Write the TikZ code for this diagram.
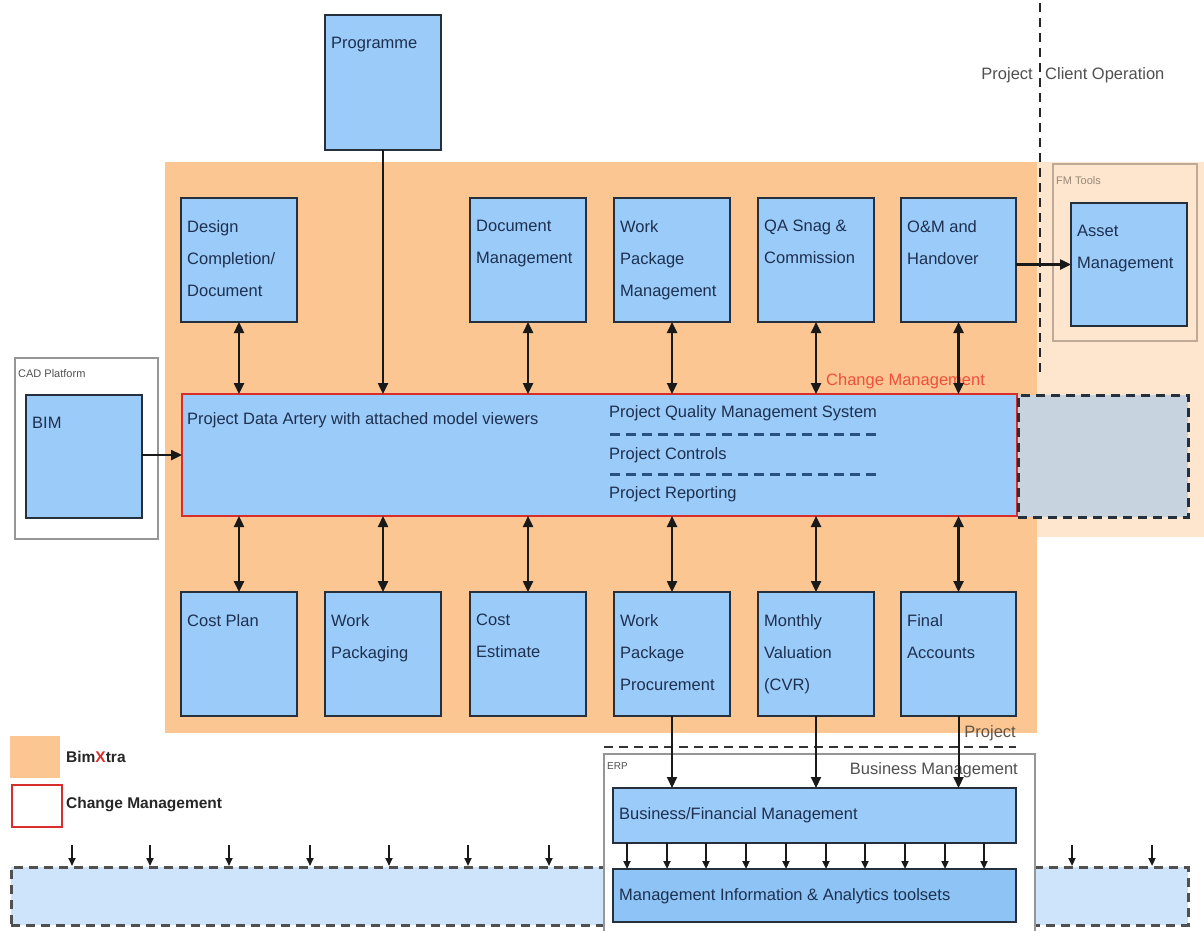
\documentclass[tikz,border=0pt]{standalone}
\usepackage{fontspec}
\setmainfont{Liberation Sans}
\usetikzlibrary{arrows.meta}
\definecolor{bxorange}{RGB}{251,198,146}
\definecolor{bxpeach}{RGB}{253,229,206}
\definecolor{bxblue}{RGB}{155,204,249}
\definecolor{bxblue2}{RGB}{142,196,245}
\definecolor{bxborder}{RGB}{38,48,60}
\definecolor{bxtext}{RGB}{30,48,80}
\definecolor{bxred}{RGB}{215,45,45}
\definecolor{bxredtxt}{RGB}{238,80,60}
\definecolor{bxband}{RGB}{206,228,250}
\definecolor{bxgraybox}{RGB}{200,211,224}
\definecolor{bxgray}{RGB}{80,80,80}
\definecolor{bxlgray}{RGB}{150,150,150}
\definecolor{bxdash}{RGB}{40,80,130}
\definecolor{bxfm}{RGB}{190,170,150}
\newcommand\mkblk[6]{%
  \node[box, minimum width=#4pt, minimum height=#5pt] (#1) at (#2,#3) {};
  \node[txt] (#1t) at ([xshift=6pt,yshift=-22pt]#1.north west) {#6};}
\begin{document}
\begin{tikzpicture}[x=1pt,y=-1pt,
 box/.style={draw=bxborder, line width=2.4pt, fill=bxblue, anchor=north west, inner sep=0pt, outer sep=0pt},
 txt/.style={anchor=north west, inner sep=0pt, text=bxtext, font=\fontsize{16.5}{32}\selectfont, align=left},
 lbl/.style={inner sep=0pt, font=\fontsize{16.5}{20}\selectfont},
 small/.style={inner sep=0pt, font=\fontsize{11}{13}\selectfont},
 dbl/.style={{Triangle[length=11pt,width=10pt]}-{Triangle[length=11pt,width=10pt]}, line width=2.4pt, black!90},
 sgl/.style={-{Triangle[length=11pt,width=10pt]}, line width=2.4pt, black!90},
 sml/.style={-{Triangle[length=8pt,width=7pt]}, line width=2pt, black!90},
 sep/.style={line width=2.5pt, draw=bxgray, dash pattern=on 9pt off 6pt},
]
\useasboundingbox (0,0) rectangle (1204,930);
\fill[white] (0,0) rectangle (1204,930);
% regions
\fill[bxorange] (165,162) rectangle (1037,733);
\fill[bxpeach] (1037,162) rectangle (1204,537);
\node[anchor=north west, draw=bxfm, line width=1.5pt, fill=bxpeach, minimum width=144pt, minimum height=177pt] (fm) at (1052,163) {};
\node[small, anchor=west, text=bxfm!80!black] at (1056,181) {FM Tools};
\node[anchor=north west, draw=bxlgray, line width=2pt, fill=white, minimum width=143pt, minimum height=181pt] (cad) at (14,357) {};
\node[small, anchor=west, text=bxgray] at (18,374) {CAD Platform};
% project / client split
\coordinate (pc1) at (1040,3);
\coordinate (pc2) at (1040,372);
\draw[sep, draw=black!85] (pc1) -- (pc2);
\node[lbl, anchor=east, text=bxgray] at (1033,75) {Project};
\node[lbl, anchor=west, text=bxgray] at (1045,75) {Client Operation};
% bottom band
\node[anchor=north west, sep, fill=bxband, minimum width=1177pt, minimum height=58pt, inner sep=0pt] (band) at (10,866) {};
% ERP
\coordinate (pb1) at (604,747);
\coordinate (pb2) at (1016,747);
\draw[sep, draw=black!80] (pb1) -- (pb2);
\node[lbl, anchor=east, text=bxgray!90!orange] at (1016,733) {Project};
\node[anchor=north west, draw=bxlgray, line width=1.5pt, fill=white, minimum width=431pt, minimum height=182pt, inner sep=0pt] (erp) at (603,753) {};
\node[small, anchor=west, text=bxgray, font=\fontsize{10}{12}\selectfont] at (607,766) {ERP};
\node[lbl, anchor=east, text=bxgray] at (1018,770) {Business Management};
% blocks
\mkblk{prog}{325}{15}{116}{135}{Programme}
\mkblk{bim}{26}{395}{116}{123}{BIM}
\mkblk{t1}{181}{198}{116}{124}{Design\\Completion/\\Document}
\mkblk{t2}{470}{198}{116}{124}{Document\\Management}
\mkblk{t3}{614}{198}{116}{124}{Work\\Package\\Management}
\mkblk{t4}{758}{198}{116}{124}{QA Snag \&\\Commission}
\mkblk{t5}{901}{198}{115}{124}{O\&M and\\Handover}
\mkblk{am}{1071}{203}{116}{123}{Asset\\Management}
\mkblk{b1}{181}{592}{116}{124}{Cost Plan}
\mkblk{b2}{325}{592}{116}{124}{Work\\Packaging}
\mkblk{b3}{470}{592}{116}{124}{Cost\\Estimate}
\mkblk{b4}{614}{592}{116}{124}{Work\\Package\\Procurement}
\mkblk{b5}{758}{592}{116}{124}{Monthly\\Valuation\\(CVR)}
\mkblk{b6}{901}{592}{115}{124}{Final\\Accounts}
% artery
\node[box, draw=bxred, minimum width=835pt, minimum height=122pt] (art) at (182,394) {};
\node[anchor=north west, draw=bxborder, dash pattern=on 9pt off 6pt, line width=2.8pt, fill=bxgraybox, minimum width=170pt, minimum height=122pt, inner sep=0pt] (gbx) at (1017,394) {};
\node[lbl, anchor=west, text=bxtext] (artt) at (187,420) {Project Data Artery with attached model viewers};
\node[lbl, anchor=west, text=bxtext] (pq) at (609,413) {Project Quality Management System};
\node[lbl, anchor=west, text=bxtext] (pc) at (609,455) {Project Controls};
\node[lbl, anchor=west, text=bxtext] (pr) at (609,494) {Project Reporting};
\coordinate (d1a) at (610,434); \coordinate (d1b) at (880,434);
\coordinate (d2a) at (610,474); \coordinate (d2b) at (880,474);
\draw[line width=3pt, draw=bxdash, dash pattern=on 10pt off 6pt] (d1a) -- (d1b);
\draw[line width=3pt, draw=bxdash, dash pattern=on 10pt off 6pt] (d2a) -- (d2b);
\node[lbl, anchor=west, text=bxredtxt] (cm) at (826,381) {Change Management};
% business boxes
\node[box, minimum width=403pt, minimum height=55pt] (bfm) at (613,788) {};
\node[lbl, anchor=west, text=bxtext] at (619,815) {Business/Financial Management};
\node[box, fill=bxblue2, minimum width=403pt, minimum height=53pt] (mi) at (613,869) {};
\node[lbl, anchor=west, text=bxtext] at (619,896) {Management Information \& Analytics toolsets};
% connectors
\foreach \n in {t1,t2,t3,t4,t5}{\draw[dbl] (\n.south) -- (\n.south |- art.north);}
\foreach \n in {b1,b2,b3,b4,b5,b6}{\draw[dbl] (\n.north) -- (\n.north |- art.south);}
\draw[sgl] (prog.south) -- (prog.south |- art.north);
\draw[sgl] (bim.east |- art.west) -- (art.west);
\draw[sgl] (t5.east |- am.west) -- (am.west);
\foreach \n in {b4,b5,b6}{\draw[sgl, line width=2pt] (\n.south) -- (\n.south |- bfm.north);}
\foreach \x in {627,667,706,746,786,826,865,905,945,984}{
  \coordinate (q) at (\x,0);
  \draw[sml] (bfm.south -| q) -- (mi.north -| q);}
\foreach \x in {72,150,229,310,389,468,549,1072,1152}{
  \coordinate (q) at (\x,845);
  \draw[sml] (q) -- (q |- band.north);}
% legend
\node[anchor=north west, fill=bxorange, minimum width=50pt, minimum height=42pt, inner sep=0pt] (lg1) at (10,736) {};
\node[anchor=north west, draw=bxred, line width=2.2pt, fill=white, minimum width=50pt, minimum height=42pt, inner sep=0pt] (lg2) at (11,784) {};
\node[lbl, anchor=west, font=\bfseries\fontsize{15.5}{18}\selectfont, text=black!85] at (66,757) {Bim\textcolor{bxred}{X}tra};
\node[lbl, anchor=west, font=\bfseries\fontsize{15.5}{18}\selectfont, text=black!85] at (66,805) {Change Management};
\end{tikzpicture}
\end{document}
